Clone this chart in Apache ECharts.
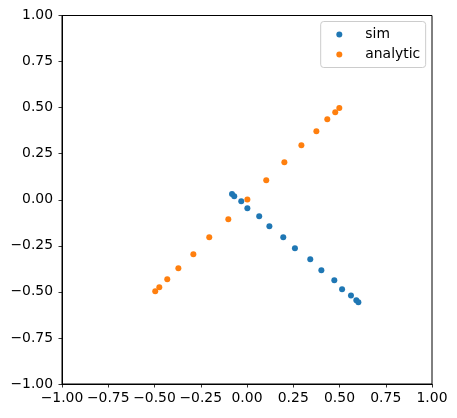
<!DOCTYPE html>
<html><head><meta charset="utf-8">
<script src="https://cdn.jsdelivr.net/npm/echarts@6/dist/echarts.min.js"></script>
<style>html,body{margin:0;padding:0;background:#fff}#c{width:457px;height:418px}</style>
</head><body><div id="c"></div>
<script>
const simX = [-0.081,-0.069,-0.031,0.002,0.066,0.121,0.196,0.259,0.342,0.402,0.472,0.514,0.562,0.591,0.602];
const simY = [0.031,0.019,-0.008,-0.046,-0.090,-0.144,-0.204,-0.263,-0.323,-0.383,-0.437,-0.486,-0.519,-0.545,-0.556];
const anaX = [-0.496,-0.474,-0.431,-0.371,-0.290,-0.204,-0.101,0.002,0.104,0.202,0.294,0.375,0.434,0.477,0.499];
const anaY = [-0.497,-0.475,-0.432,-0.372,-0.296,-0.204,-0.106,0.002,0.106,0.203,0.296,0.372,0.437,0.475,0.498];
const ticks = [-1,-0.75,-0.5,-0.25,0,0.25,0.5,0.75,1];

const fmt = v => v.toFixed(2).replace('-', '\u2212');
const font = 'DejaVu Sans';
const axisCommon = {
  min: -1, max: 1, interval: 0.25,
  axisLine: {onZero:false, lineStyle:{color:'#000', width:1}},
  axisTick: {show:true, length:3.5, lineStyle:{color:'#000', width:0.8}},
  splitLine: {show:false},
  axisLabel: {formatter: fmt, color:'#000', fontFamily: font, fontSize: 13.9}
};
const chart = echarts.init(document.getElementById('c'), null, {renderer:'canvas'});
chart.setOption({
  animation: false,
  backgroundColor: '#fff',
  grid: {left: 62, top: 15.5, right: 25, bottom: 34, show: true, borderColor: '#000', borderWidth: 1, containLabel: false},
  xAxis: Object.assign({type:'value', position:'bottom'}, axisCommon, {axisLabel: Object.assign({}, axisCommon.axisLabel, {margin: 7})}),
  yAxis: Object.assign({type:'value', position:'left'}, axisCommon, {axisLabel: Object.assign({}, axisCommon.axisLabel, {margin: 9})}),
  legend: {
    orient: 'vertical', left: 320.7, top: 21.5,
    data: ['sim','analytic'],
    itemWidth: 6, itemHeight: 6, itemGap: 6,
    padding: [6, 5.5, 6, 15.6],
    borderColor: '#cccccc', borderWidth: 1, borderRadius: 3,
    backgroundColor: 'rgba(255,255,255,0.8)',
    textStyle: {fontFamily: font, fontSize: 13.9, color:'#000', lineHeight: 14, padding: [0,0,0,18]}
  },
  series: [
    {name:'sim', type:'scatter', symbol:'circle', symbolSize:6, itemStyle:{color:'#1f77b4', opacity:1},
     data: simX.map((x,i)=>[x, simY[i]])},
    {name:'analytic', type:'scatter', symbol:'circle', symbolSize:6, itemStyle:{color:'#ff7f0e', opacity:1},
     data: anaX.map((x,i)=>[x, anaY[i]])}
  ]
});
</script></body></html>
